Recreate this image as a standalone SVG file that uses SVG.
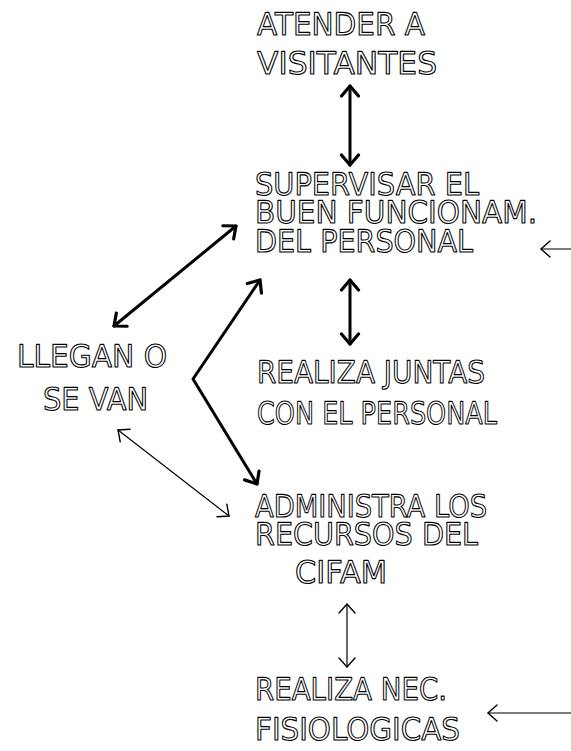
<svg xmlns="http://www.w3.org/2000/svg" width="571" height="751" viewBox="0 0 571 751">
<style>
text{font-family:"DejaVu Sans","Liberation Sans",sans-serif;font-size:31px;fill:#fff;stroke:#000;stroke-width:1.1;stroke-linejoin:round;text-rendering:geometricPrecision}
.thick{stroke:#000;stroke-width:3;fill:none;stroke-linecap:round;stroke-linejoin:round}
.thin{stroke:#000;stroke-width:1.2;fill:none;stroke-linecap:round}
</style>
<defs>
<marker id="hk" markerUnits="userSpaceOnUse" markerWidth="24" markerHeight="24" refX="12" refY="12" orient="auto-start-reverse" viewBox="0 0 24 24">
<path d="M2,3.5 L12,12 L2,20.5" fill="none" stroke="#000" stroke-width="3.2" stroke-linecap="round" stroke-linejoin="round"/>
</marker>
<marker id="hn" markerUnits="userSpaceOnUse" markerWidth="24" markerHeight="24" refX="12" refY="12" orient="auto-start-reverse" viewBox="0 0 24 24">
<path d="M3,4 L12,12 L3,20" fill="none" stroke="#000" stroke-width="1.4" stroke-linecap="round"/>
</marker>
</defs>
<g id="connectors">
<line class="thick" x1="350" y1="86" x2="350" y2="165" marker-start="url(#hk)" marker-end="url(#hk)"/>
<line class="thick" x1="236" y1="226" x2="114" y2="326" marker-start="url(#hk)" marker-end="url(#hk)"/>
<polyline class="thick" points="260,280 193,379 257,484" marker-start="url(#hk)" marker-end="url(#hk)"/>
<line class="thick" x1="350" y1="280" x2="350" y2="344" marker-start="url(#hk)" marker-end="url(#hk)"/>
<line class="thin" x1="118" y1="430" x2="229" y2="516" marker-start="url(#hn)" marker-end="url(#hn)"/>
<line class="thin" x1="347" y1="604" x2="347" y2="667" marker-start="url(#hn)" marker-end="url(#hn)"/>
<line class="thin" x1="571" y1="249" x2="541" y2="249" marker-end="url(#hn)"/>
<line class="thin" x1="571" y1="713" x2="488" y2="713" marker-end="url(#hn)"/>
</g>
<g id="n-atender">
<text x="257" y="35" textLength="168" lengthAdjust="spacingAndGlyphs">ATENDER A</text>
<text x="257" y="74" textLength="180" lengthAdjust="spacingAndGlyphs">VISITANTES</text>
</g>
<g id="n-supervisar">
<text x="255" y="195" textLength="224" lengthAdjust="spacingAndGlyphs">SUPERVISAR EL</text>
<text x="255" y="223" textLength="282" lengthAdjust="spacingAndGlyphs">BUEN FUNCIONAM.</text>
<text x="255" y="252" textLength="218" lengthAdjust="spacingAndGlyphs">DEL PERSONAL</text>
</g>
<g id="n-llegan">
<text x="17" y="367" textLength="150" lengthAdjust="spacingAndGlyphs">LLEGAN O</text>
<text x="43" y="410" textLength="105" lengthAdjust="spacingAndGlyphs">SE VAN</text>
</g>
<g id="n-juntas">
<text x="257" y="383" textLength="228" lengthAdjust="spacingAndGlyphs">REALIZA JUNTAS</text>
<text x="257" y="424" textLength="240" lengthAdjust="spacingAndGlyphs">CON EL PERSONAL</text>
</g>
<g id="n-administra">
<text x="255" y="517" textLength="232" lengthAdjust="spacingAndGlyphs">ADMINISTRA LOS</text>
<text x="255" y="545" textLength="223" lengthAdjust="spacingAndGlyphs">RECURSOS DEL</text>
<text x="295" y="583" textLength="92" lengthAdjust="spacingAndGlyphs">CIFAM</text>
</g>
<g id="n-fisiologicas">
<text x="255" y="700" textLength="192" lengthAdjust="spacingAndGlyphs">REALIZA NEC.</text>
<text x="255" y="740" textLength="205" lengthAdjust="spacingAndGlyphs">FISIOLOGICAS</text>
</g>
</svg>
